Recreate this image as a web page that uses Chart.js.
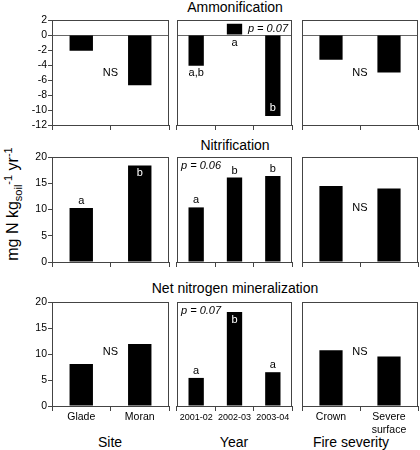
<!DOCTYPE html>
<html>
<head>
<meta charset="utf-8">
<script src="https://cdn.jsdelivr.net/npm/chart.js@4.4.0/dist/chart.umd.min.js"></script>
<style>
  body { margin: 0; background: #fff; width: 420px; height: 450px; position: relative; overflow: hidden;
         font-family: "Liberation Sans", Arial, sans-serif; color: #000; }
  canvas { position: absolute; }
  .t { position: absolute; font-size: 14px; line-height: 16px; transform: translateX(-50%); white-space: nowrap; }
  #ytitle { position: absolute; left: 13px; top: 204px; font-size: 16px; white-space: nowrap;
            transform: translate(-50%, -50%) rotate(-90deg); }
  #ytitle sub, #ytitle sup { font-size: 11px; }
</style>
</head>
<body>
<div class="t" style="left:235px;top:-1px">Ammonification</div>
<div class="t" style="left:235px;top:137px">Nitrification</div>
<div class="t" style="left:235px;top:280px">Net nitrogen mineralization</div>
<div class="t" style="left:110px;top:434px">Site</div>
<div class="t" style="left:234px;top:434px">Year</div>
<div class="t" style="left:351px;top:434px">Fire severity</div>
<div id="ytitle">mg N kg<sub>soil</sub><sup>-1</sup> yr<sup>-1</sup></div>

<script>
const siteLabels = ["Glade", "Moran"];
const yearLabels = ["2001-02", "2002-03", "2003-04"];
const fireLabels = ["Crown", ["Severe", "surface"]];

const ammonSite = [-2.1, -6.7];
const ammonYear = [-4.1, 1.5, -10.8];
const ammonFire = [-3.3, -5.0];

const nitrSite = [10.3, 18.4];
const nitrYear = [10.4, 16.1, 16.4];
const nitrFire = [14.5, 14.0];

const netSite = [8.1, 11.9];
const netYear = [5.4, 18.1, 6.5];
const netFire = [10.7, 9.5];

// min, max, step
const ammonTicks = [-12, 2, 2];
const rateTicks = [0, 20, 5];

const ammonYearLetters = ["a,b", "a", "b"];
const nitrSiteLetters = ["a", "b"];
const nitrYearLetters = ["a", "b", "b"];
const netYearLetters = ["a", "b", "a"];

Chart.defaults.font.family = "'Liberation Sans', Arial, sans-serif";
Chart.defaults.color = "#000";

// plot areas of the grid
const cols = [[52, 169], [177, 292], [302, 418]];
const rows = [[20, 125], [157, 262], [302, 406]];

const panels = [
  { row: 0, col: 0, labels: siteLabels, data: ammonSite, range: ammonTicks, ns: -5 },
  { row: 0, col: 1, labels: yearLabels, data: ammonYear, range: ammonTicks,
    letters: ammonYearLetters, modes: ["below", "base", "inside"], p: "p = 0.07", pSide: "right" },
  { row: 0, col: 2, labels: fireLabels, data: ammonFire, range: ammonTicks, ns: -5 },
  { row: 1, col: 0, labels: siteLabels, data: nitrSite, range: rateTicks,
    letters: nitrSiteLetters, modes: ["above", "inside"] },
  { row: 1, col: 1, labels: yearLabels, data: nitrYear, range: rateTicks,
    letters: nitrYearLetters, modes: ["above", "above", "above"], p: "p = 0.06", pSide: "left" },
  { row: 1, col: 2, labels: fireLabels, data: nitrFire, range: rateTicks, ns: 10.3 },
  { row: 2, col: 0, labels: siteLabels, data: netSite, range: rateTicks, ns: 10.4 },
  { row: 2, col: 1, labels: yearLabels, data: netYear, range: rateTicks,
    letters: netYearLetters, modes: ["above", "inside", "above"], p: "p = 0.07", pSide: "left" },
  { row: 2, col: 2, labels: fireLabels, data: netFire, range: rateTicks, ns: 10.3 }
];

const notes = {
  id: "notes",
  afterDraw(chart, args, opt) {
    const { ctx, chartArea: a, scales } = chart;
    const bars = chart.getDatasetMeta(0).data;
    ctx.save();
    ctx.textAlign = "center";
    ctx.textBaseline = "middle";
    ctx.font = "11px 'Liberation Sans', Arial, sans-serif";
    (opt.letters || []).forEach((t, i) => {
      const b = bars[i];
      const m = opt.modes[i];
      let y;
      ctx.fillStyle = "#000";
      if (m === "above") y = b.y - 7;
      else if (m === "below") y = b.y + 7;
      else if (m === "base") y = b.base + 8;
      else {
        ctx.fillStyle = "#fff";
        y = b.y < b.base ? b.y + 8 : b.y - 8;
      }
      ctx.fillText(t, b.x, y);
    });
    if (opt.ns != null) {
      ctx.fillStyle = "#000";
      ctx.fillText("NS", (a.left + a.right) / 2, scales.y.getPixelForValue(opt.ns));
    }
    if (opt.p) {
      ctx.fillStyle = "#000";
      ctx.font = "italic 11px 'Liberation Sans', Arial, sans-serif";
      ctx.textAlign = opt.pSide;
      ctx.fillText(opt.p, opt.pSide === "right" ? a.right - 4 : a.left + 4, a.top + 9);
    }
    // box round the plot
    ctx.strokeStyle = "#444";
    ctx.lineWidth = 1;
    ctx.strokeRect(a.left + 0.5, a.top + 0.5, a.right - a.left - 1, a.bottom - a.top);
    ctx.restore();
  }
};

panels.forEach(p => {
  const [x0, x1] = cols[p.col];
  const [y0, y1] = rows[p.row];
  const leftW = p.col === 0 ? 40 : 0;
  const padL = p.col === 0 ? 0 : 2;
  const bottomH = p.row === 2 ? 34 : 8;
  const canvas = document.createElement("canvas");
  const w = x1 - x0 + leftW + padL + 4;
  const h = y1 - y0 + 10 + bottomH;
  canvas.width = w;
  canvas.height = h;
  canvas.style.left = (x0 - leftW - padL) + "px";
  canvas.style.top = (y0 - 10) + "px";
  canvas.style.width = w + "px";
  canvas.style.height = h + "px";
  document.body.appendChild(canvas);

  // the year labels sit close together, so they get a smaller face
  const tickFont = { size: p.col === 1 ? 9 : 10.5 };

  new Chart(canvas.getContext("2d"), {
    type: "bar",
    data: {
      labels: p.labels,
      datasets: [{
        data: p.data,
        backgroundColor: "#000",
        borderWidth: 0,
        barPercentage: 0.4,
        categoryPercentage: 1
      }]
    },
    options: {
      responsive: false,
      animation: false,
      devicePixelRatio: 1,
      layout: { padding: { top: 10, right: 4, left: padL, bottom: 0 } },
      plugins: {
        legend: { display: false },
        tooltip: { enabled: false },
        notes: { letters: p.letters, modes: p.modes, ns: p.ns, p: p.p, pSide: p.pSide }
      },
      scales: {
        x: {
          offset: true,
          border: { display: false },
          grid: { offset: true, drawOnChartArea: false, color: "#444", tickLength: 5 },
          ticks: { display: p.row === 2, font: tickFont, padding: p.col === 1 ? 1 : 0, maxRotation: 0, autoSkip: false },
          afterFit: s => { s.height = bottomH; }
        },
        y: {
          min: p.range[0],
          max: p.range[1],
          border: { display: false },
          grid: {
            drawOnChartArea: p.row === 0,
            drawTicks: p.col === 0,
            color: c => (c.tick && c.tick.value === 0 ? "#666" : "rgba(0,0,0,0)"),
            tickColor: "#444",
            tickLength: 4
          },
          ticks: { display: p.col === 0, stepSize: p.range[2], autoSkip: false, font: { size: 10.5 }, padding: 1 },
          afterFit: s => { s.width = leftW; }
        }
      }
    },
    plugins: [notes]
  });
});
</script>
</body>
</html>
